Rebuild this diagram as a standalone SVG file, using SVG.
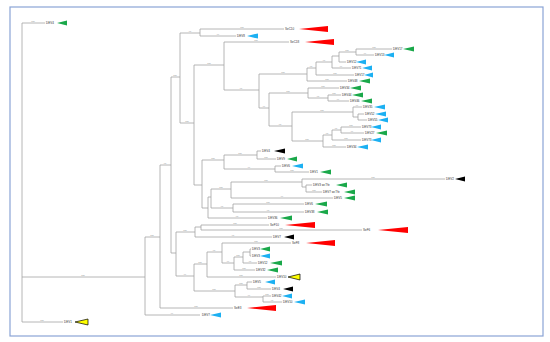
<svg xmlns="http://www.w3.org/2000/svg" width="550" height="342" viewBox="0 0 550 342">
<style>
.br{stroke:#a3a3a3;stroke-width:0.8;fill:none}
.lb{font-family:"Liberation Sans",Arial,sans-serif;font-size:3px;fill:#333}
.bs{font-family:"Liberation Sans",Arial,sans-serif;font-size:2.2px;fill:#888;text-anchor:middle}
.g{fill:#1aa84a}.b{fill:#1cb0f2}.r{fill:#ff0000}.k{fill:#000}.y{fill:#ffff00;stroke:#000;stroke-width:0.7}
</style>
<rect x="0" y="0" width="550" height="342" fill="#fff"/>
<rect x="10" y="7" width="533" height="329" fill="none" stroke="#8aa4d6" stroke-width="1.2"/>
<g id="connectors" class="br">
<path d="M22,23V322M22,23H45M22,277H145M22,322H63"/>
<path d="M145,237V315M145,315H200M145,237H160"/>
<path d="M160,165V308M160,308H233M160,165H171"/>
<path d="M171,77V253M171,77H180M171,253H176"/>
<path d="M180,33V123M180,33H200M180,123H194"/>
<path d="M200,29V36M200,29H284M200,36H236"/>
<path d="M194,65V185M194,65H224M194,185H202"/>
<path d="M224,42V90M224,42H289M224,90H259"/>
<path d="M259,74V108M259,74H307M259,108H269"/>
<path d="M307,68V81M307,68H316M307,81H347"/>
<path d="M316,62V75M316,62H332M316,75H354"/>
<path d="M332,56V68M332,56H339M332,68H351"/>
<path d="M339,52V62M339,52H356M339,62H346"/>
<path d="M356,49V55M356,49H392M356,55H374"/>
<path d="M269,93V126M269,93H308M269,126H292"/>
<path d="M308,88V98M308,88H339M308,98H328"/>
<path d="M328,95V101M328,95H341M328,101H349"/>
<path d="M292,112V141M292,112H353M292,141H323"/>
<path d="M353,107V117M353,107H362M353,117H358"/>
<path d="M358,114V120M358,114H364M358,120H367"/>
<path d="M323,135V147M323,135H332M323,147H346"/>
<path d="M332,130V140M332,130H341M332,140H361"/>
<path d="M341,127V133M341,127H361M341,133H364"/>
<path d="M202,160V208M202,160H224M202,208H208"/>
<path d="M224,155V169M224,155H257M224,169H275"/>
<path d="M257,151V159M257,151H261M257,159H276"/>
<path d="M275,166V172M275,166H281M275,172H309"/>
<path d="M208,197V218M208,197H211M208,218H267"/>
<path d="M211,189V208M211,189H231M211,208H233"/>
<path d="M231,182V198M231,182H302M231,198H333"/>
<path d="M302,179V187M302,179H445M302,187H306"/>
<path d="M306,185V192M306,185H312M306,192H322"/>
<path d="M233,204V212M233,204H304M233,212H304"/>
<path d="M176,232V276M176,232H195M176,276H194"/>
<path d="M195,227V237M195,227H201M195,237H272"/>
<path d="M201,225V230M201,225H269M201,230H362"/>
<path d="M194,264V291M194,264H207M194,291H235"/>
<path d="M207,252V277M207,252H222M207,277H276"/>
<path d="M222,243V263M222,243H291M222,263H234"/>
<path d="M234,257V270M234,257H243M234,270H255"/>
<path d="M243,252V263M243,252H250M243,263H257"/>
<path d="M250,249V256M250,249H251M250,256H251"/>
<path d="M235,285V297M235,285H247M235,297H263"/>
<path d="M247,282V289M247,282H252M247,289H271"/>
<path d="M263,296V302M263,296H271M263,302H282"/>
</g>
<g id="support-values" class="bs">
<text x="33" y="22">100</text><text x="83" y="276">100</text><text x="42" y="321">100</text>
<text x="172" y="314">99</text><text x="152" y="236">100</text><text x="196" y="307">100</text>
<text x="165" y="164">98</text><text x="175" y="76">100</text><text x="190" y="32">96</text>
<text x="187" y="122">100</text><text x="242" y="28">100</text><text x="218" y="35">99</text>
<text x="209" y="64">100</text><text x="256" y="41">100</text><text x="241" y="89">97</text>
<text x="283" y="73">100</text><text x="264" y="107">99</text><text x="311" y="67">98</text>
<text x="327" y="80">100</text><text x="324" y="61">96</text><text x="335" y="74">100</text>
<text x="341" y="67">99</text><text x="347" y="51">100</text><text x="374" y="48">100</text>
<text x="365" y="54">99</text><text x="288" y="92">100</text><text x="280" y="125">98</text>
<text x="323" y="87">100</text><text x="318" y="97">97</text><text x="334" y="94">100</text>
<text x="338" y="100">99</text><text x="322" y="111">100</text><text x="307" y="140">100</text>
<text x="357" y="106">99</text><text x="327" y="134">98</text><text x="334" y="146">100</text>
<text x="336" y="129">96</text><text x="346" y="139">100</text><text x="351" y="126">100</text>
<text x="352" y="132">99</text><text x="213" y="159">100</text><text x="240" y="154">100</text>
<text x="249" y="168">99</text><text x="266" y="158">100</text><text x="292" y="171">100</text>
<text x="237" y="217">98</text><text x="221" y="188">100</text><text x="222" y="207">97</text>
<text x="266" y="181">100</text><text x="282" y="197">99</text><text x="373" y="178">100</text>
<text x="314" y="191">100</text><text x="268" y="203">100</text><text x="268" y="211">98</text>
<text x="185" y="231">100</text><text x="185" y="275">99</text><text x="235" y="224">100</text>
<text x="281" y="229">100</text><text x="233" y="236">97</text><text x="200" y="263">100</text>
<text x="214" y="290">100</text><text x="214" y="251">98</text><text x="241" y="276">100</text>
<text x="256" y="242">100</text><text x="228" y="262">99</text><text x="238" y="256">100</text>
<text x="244" y="269">100</text><text x="250" y="262">96</text><text x="241" y="284">100</text>
<text x="249" y="296">99</text><text x="259" y="288">100</text><text x="267" y="295">100</text>
<text x="272" y="301">98</text>
</g>
<g id="n01"><text class="lb" x="46" y="24.1">DEV4</text><path class="g" d="M57,23L67,20.4V25.6Z"/></g>
<g id="n02"><text class="lb" x="64" y="323.1">DEV1</text><path class="y" d="M75,322L88,319V325Z"/></g>
<g id="n03"><text class="lb" x="202" y="316.1">DEV7</text><path class="b" d="M210,315L221,312.4V317.6Z"/></g>
<g id="n04"><text class="lb" x="234" y="309.1">SeE3</text><path class="r" d="M247,308L276,305V311Z"/></g>
<g id="n05"><text class="lb" x="285" y="30.1">SeC10</text><path class="r" d="M299,29L328,26V32Z"/></g>
<g id="n06"><text class="lb" x="237" y="37.1">DEV8</text><path class="b" d="M247,36L258,33.4V38.6Z"/></g>
<g id="n07"><text class="lb" x="290" y="43.1">SeC18</text><path class="r" d="M305,42L334,39V45Z"/></g>
<g id="n08"><text class="lb" x="393" y="50.1">DEV17</text><path class="g" d="M403,49L414,46.4V51.6Z"/></g>
<g id="n09"><text class="lb" x="375" y="56.1">DEV13</text><path class="b" d="M384,55L394,52.4V57.6Z"/></g>
<g id="n10"><text class="lb" x="347" y="63.1">DEV12</text><path class="b" d="M356,62L366,59.4V64.6Z"/></g>
<g id="n11"><text class="lb" x="352" y="69.1">DEV71</text><path class="b" d="M362,68L372,65.4V70.6Z"/></g>
<g id="n12"><text class="lb" x="355" y="76.1">DEV17</text><path class="b" d="M364,75L373,72.4V77.6Z"/></g>
<g id="n13"><text class="lb" x="348" y="82.1">DEV48</text><path class="g" d="M359,81L370,78.4V83.6Z"/></g>
<g id="n14"><text class="lb" x="340" y="89.1">DEV34</text><path class="g" d="M350,88L361,85.4V90.6Z"/></g>
<g id="n15"><text class="lb" x="342" y="96.1">DEV44</text><path class="g" d="M352,95L363,92.4V97.6Z"/></g>
<g id="n16"><text class="lb" x="350" y="102.1">DEV46</text><path class="g" d="M361,101L372,98.4V103.6Z"/></g>
<g id="n17"><text class="lb" x="363" y="108.1">DEV35</text><path class="b" d="M374,107L385,104.4V109.6Z"/></g>
<g id="n18"><text class="lb" x="365" y="115.1">DEV52</text><path class="b" d="M375,114L386,111.4V116.6Z"/></g>
<g id="n19"><text class="lb" x="368" y="121.1">DEV55</text><path class="b" d="M378,120L388,117.4V122.6Z"/></g>
<g id="n20"><text class="lb" x="362" y="128.1">DEV73</text><path class="b" d="M371,127L381,124.4V129.6Z"/></g>
<g id="n21"><text class="lb" x="365" y="134.1">DEV27</text><path class="g" d="M376,133L387,130.4V135.6Z"/></g>
<g id="n22"><text class="lb" x="362" y="141.1">DEV73</text><path class="b" d="M371,140L381,137.4V142.6Z"/></g>
<g id="n23"><text class="lb" x="347" y="148.1">DEV34</text><path class="b" d="M357,147L368,144.4V149.6Z"/></g>
<g id="n24"><text class="lb" x="262" y="152.1">DEV4</text><path class="k" d="M274,151L285,148.4V153.6Z"/></g>
<g id="n25"><text class="lb" x="277" y="160.1">DEV9</text><path class="g" d="M287,159L297,156.4V161.6Z"/></g>
<g id="n26"><text class="lb" x="282" y="167.1">DEV6</text><path class="b" d="M292,166L303,163.4V168.6Z"/></g>
<g id="n27"><text class="lb" x="310" y="173.1">DEV1</text><path class="g" d="M320,172L331,169.4V174.6Z"/></g>
<g id="n28"><text class="lb" x="446" y="180.1">DEV2</text><path class="k" d="M455,179L465,176.4V181.6Z"/></g>
<g id="n29"><text class="lb" x="313" y="186.1">DEV3 wcTfe</text><path class="g" d="M336,185L347,182.4V187.6Z"/></g>
<g id="n30"><text class="lb" x="323" y="193.1">DEV7 wcTfe</text><path class="g" d="M344,192L355,189.4V194.6Z"/></g>
<g id="n31"><text class="lb" x="334" y="199.1">DEV5</text><path class="g" d="M344,198L355,195.4V200.6Z"/></g>
<g id="n32"><text class="lb" x="305" y="205.1">DEV6</text><path class="g" d="M315,204L327,201.4V206.6Z"/></g>
<g id="n33"><text class="lb" x="305" y="213.1">DEV38</text><path class="g" d="M317,212L328,209.4V214.6Z"/></g>
<g id="n34"><text class="lb" x="268" y="219.1">DEV36</text><path class="g" d="M280,218L292,215.4V220.6Z"/></g>
<g id="n35"><text class="lb" x="270" y="226.1">SeF10</text><path class="r" d="M285,225L315,222V228Z"/></g>
<g id="n36"><text class="lb" x="363" y="231.1">SeF6</text><path class="r" d="M378,230L408,227V233Z"/></g>
<g id="n37"><text class="lb" x="273" y="238.1">DEV7</text><path class="k" d="M284,237L294,234.4V239.6Z"/></g>
<g id="n38"><text class="lb" x="292" y="244.1">SeF8</text><path class="r" d="M306,243L335,240V246Z"/></g>
<g id="n39"><text class="lb" x="252" y="250.1">DEV3</text><path class="g" d="M260,249L270,246.4V251.6Z"/></g>
<g id="n40"><text class="lb" x="252" y="257.1">DEV3</text><path class="b" d="M260,256L270,253.4V258.6Z"/></g>
<g id="n41"><text class="lb" x="258" y="264.1">DEV12</text><path class="g" d="M270,263L282,260.4V265.6Z"/></g>
<g id="n42"><text class="lb" x="256" y="271.1">DEV32</text><path class="g" d="M267,270L278,267.4V272.6Z"/></g>
<g id="n43"><text class="lb" x="277" y="278.1">DEV10</text><path class="y" d="M288,277L300,274V280Z"/></g>
<g id="n44"><text class="lb" x="253" y="283.1">DEV5</text><path class="b" d="M265,282L275,279.4V284.6Z"/></g>
<g id="n45"><text class="lb" x="272" y="290.1">DEV4</text><path class="k" d="M283,289L293,286.4V291.6Z"/></g>
<g id="n46"><text class="lb" x="272" y="297.1">DEV42</text><path class="b" d="M282,296L292,293.4V298.6Z"/></g>
<g id="n47"><text class="lb" x="283" y="303.1">DEV10</text><path class="b" d="M294,302L305,299.4V304.6Z"/></g>
</svg>
